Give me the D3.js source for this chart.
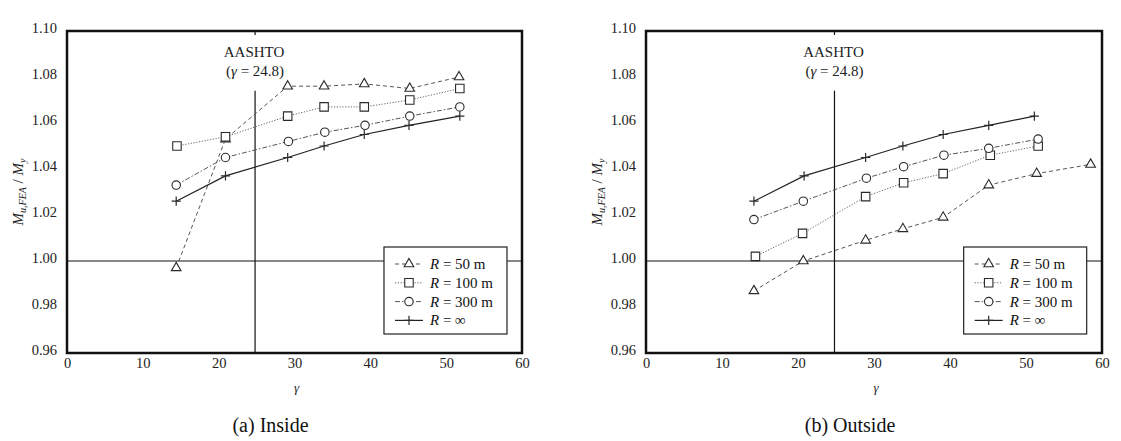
<!DOCTYPE html>
<html>
<head>
<meta charset="utf-8">
<script src="https://cdn.jsdelivr.net/npm/d3@7"></script>
<style>
  body { margin: 0; background: #fff; }
  svg { display: block; font-family: "Liberation Serif", "DejaVu Serif", serif; }
</style>
</head>
<body>
<div class="visHolder"></div>
<script>
// ========================================
// Data
// ========================================
const gammaTicks = [0, 10, 20, 30, 40, 50, 60];
const ratioTicks = [0.96, 0.98, 1.00, 1.02, 1.04, 1.06, 1.08, 1.10];
const aashtoGamma = 24.8;
const legendValues = ['50 m', '100 m', '300 m', '∞'];

// (a) Inside
const inGamma50  = [14.4, 20.9, 29.1, 33.9, 39.2, 45.2, 51.7];
const inRatio50  = [0.997, 1.053, 1.076, 1.076, 1.077, 1.075, 1.080];
const inGamma100 = [14.5, 20.9, 29.1, 33.9, 39.2, 45.2, 51.8];
const inRatio100 = [1.050, 1.054, 1.063, 1.067, 1.067, 1.070, 1.075];
const inGamma300 = [14.4, 20.9, 29.2, 34.0, 39.3, 45.2, 51.8];
const inRatio300 = [1.033, 1.045, 1.052, 1.056, 1.059, 1.063, 1.067];
const inGammaInf = [14.4, 20.9, 29.1, 33.9, 39.2, 45.1, 51.8];
const inRatioInf = [1.026, 1.037, 1.045, 1.050, 1.055, 1.059, 1.063];

// (b) Outside
const outGamma50  = [14.2, 20.7, 28.9, 33.8, 39.1, 45.1, 51.4, 58.5];
const outRatio50  = [0.987, 1.000, 1.009, 1.014, 1.019, 1.033, 1.038, 1.042];
const outGamma100 = [14.4, 20.6, 28.9, 33.9, 39.1, 45.3, 51.6];
const outRatio100 = [1.002, 1.012, 1.028, 1.034, 1.038, 1.046, 1.050];
const outGamma300 = [14.2, 20.7, 29.0, 33.9, 39.2, 45.1, 51.6];
const outRatio300 = [1.018, 1.026, 1.036, 1.041, 1.046, 1.049, 1.053];
const outGammaInf = [14.2, 20.8, 28.9, 33.8, 39.1, 45.1, 51.1];
const outRatioInf = [1.026, 1.037, 1.045, 1.050, 1.055, 1.059, 1.063];

// ========================================
// Layout and styles
// ========================================
const width = 1121, height = 441,
  plotTop = 31, plotBottom = 353,
  tickFont = 14.5;

// line styles per series (R = 50, 100, 300, inf)
const styles = [
  { dash: '4,3',         stroke: '#555', width: 1,   symbol: 'triangle' },
  { dash: '1.2,1.6',     stroke: '#666', width: 1,   symbol: 'square' },
  { dash: '5,2,1.5,2',   stroke: '#555', width: 1,   symbol: 'circle' },
  { dash: null,          stroke: '#222', width: 1.2, symbol: 'plus' }
];

const panels = [
  { x0: 67,  x1: 522,  caption: '(a) Inside',
    series: [[inGamma50, inRatio50], [inGamma100, inRatio100], [inGamma300, inRatio300], [inGammaInf, inRatioInf]] },
  { x0: 646, x1: 1102, caption: '(b) Outside',
    series: [[outGamma50, outRatio50], [outGamma100, outRatio100], [outGamma300, outRatio300], [outGammaInf, outRatioInf]] }
];

const svg = d3.select('.visHolder')
  .append('svg')
    .attr('width', width)
    .attr('height', height);

// marker path generator
function markerPath(kind) {
  if (kind === 'triangle') return d3.symbol(d3.symbolTriangle, 40)();
  if (kind === 'square')   return d3.symbol(d3.symbolSquare, 72)();
  if (kind === 'circle')   return d3.symbol(d3.symbolCircle, 56)();
  return 'M-4.6,0H4.6M0,-4.6V4.6';
}

function drawMarker(g, kind, x, y) {
  g.append('path')
    .attr('d', markerPath(kind))
    .attr('transform', 'translate(' + x + ',' + y + ')')
    .attr('fill', kind === 'plus' ? 'none' : '#fff')
    .attr('stroke', '#2a2a2a')
    .attr('stroke-width', kind === 'plus' ? 1.2 : 1.1);
}

panels.forEach(function (p) {
  const g = svg.append('g');
  const x = d3.scaleLinear().domain([0, 60]).range([p.x0, p.x1]);
  const y = d3.scaleLinear().domain([0.96, 1.10]).range([plotBottom, plotTop]);
  const cx = (p.x0 + p.x1) / 2;

  // --- axes (labels only, no tick marks)
  g.append('g')
    .attr('transform', 'translate(0,' + plotBottom + ')')
    .call(d3.axisBottom(x).tickValues(gammaTicks).tickSize(0).tickPadding(4.5).tickFormat(d3.format('d')))
    .call(a => a.select('.domain').remove())
    .selectAll('text')
      .attr('font-family', 'Liberation Serif')
      .attr('font-size', tickFont)
      .attr('fill', '#222');

  g.append('g')
    .attr('transform', 'translate(' + p.x0 + ',0)')
    .call(d3.axisLeft(y).tickValues(ratioTicks).tickSize(0).tickPadding(10).tickFormat(d3.format('.2f')))
    .call(a => a.select('.domain').remove())
    .selectAll('text')
      .attr('font-family', 'Liberation Serif')
      .attr('font-size', tickFont)
      .attr('dy', '0.08em')
      .attr('fill', '#222');

  // --- reference lines
  g.append('line')
    .attr('x1', p.x0).attr('x2', p.x1)
    .attr('y1', y(1.0)).attr('y2', y(1.0))
    .attr('stroke', '#111').attr('stroke-width', 1.2);

  g.append('line')
    .attr('x1', x(aashtoGamma)).attr('x2', x(aashtoGamma))
    .attr('y1', plotBottom).attr('y2', y(1.074))
    .attr('stroke', '#111').attr('stroke-width', 1.2);

  g.append('line')
    .attr('x1', x(aashtoGamma)).attr('x2', x(aashtoGamma))
    .attr('y1', plotTop).attr('y2', plotTop + 4)
    .attr('stroke', '#111').attr('stroke-width', 1.2);

  g.append('text')
    .attr('x', x(aashtoGamma) - 1).attr('y', 57)
    .attr('text-anchor', 'middle')
    .attr('font-size', 15)
    .attr('fill', '#222')
    .text('AASHTO');

  const t2 = g.append('text')
    .attr('x', x(aashtoGamma)).attr('y', 76)
    .attr('text-anchor', 'middle')
    .attr('font-size', 15)
    .attr('fill', '#222');
  t2.append('tspan').text('(');
  t2.append('tspan').attr('font-style', 'italic').text('γ');
  t2.append('tspan').text(' = ' + aashtoGamma + ')');

  // --- series lines and markers
  p.series.forEach(function (s, k) {
    const st = styles[k];
    const pts = s[0].map((gm, i) => [gm, s[1][i]]);
    g.append('path')
      .datum(pts)
      .attr('d', d3.line().x(d => x(d[0])).y(d => y(d[1])))
      .attr('fill', 'none')
      .attr('stroke', st.stroke)
      .attr('stroke-width', st.width)
      .attr('stroke-dasharray', st.dash);
  });
  p.series.forEach(function (s, k) {
    const st = styles[k];
    s[0].forEach((gm, i) => drawMarker(g, st.symbol, x(gm), y(s[1][i])));
  });

  // --- legend
  const lx = x(41.8), ly = 247, lw = 123, lh = 87;
  const leg = g.append('g').attr('transform', 'translate(' + lx + ',' + ly + ')');
  leg.append('rect')
    .attr('width', lw).attr('height', lh)
    .attr('fill', '#fff')
    .attr('stroke', '#222').attr('stroke-width', 1.2);
  legendValues.forEach(function (v, k) {
    const st = styles[k];
    const ry = 17 + k * 18.8;
    leg.append('line')
      .attr('x1', 11).attr('x2', 39).attr('y1', ry).attr('y2', ry)
      .attr('stroke', st.stroke).attr('stroke-width', st.width)
      .attr('stroke-dasharray', st.dash);
    drawMarker(leg, st.symbol, 25, ry);
    const t = leg.append('text')
      .attr('x', 46).attr('y', ry + 5)
      .attr('font-size', 15)
      .attr('fill', '#111');
    t.append('tspan').attr('font-style', 'italic').text('R');
    t.append('tspan').text(' = ' + v);
  });

  // --- frame
  g.append('rect')
    .attr('x', p.x0).attr('y', plotTop)
    .attr('width', p.x1 - p.x0).attr('height', plotBottom - plotTop)
    .attr('fill', 'none')
    .attr('stroke', '#111').attr('stroke-width', 2.5);

  // --- axis titles
  const yt = g.append('text')
    .attr('transform', 'translate(' + (p.x0 - 44) + ',' + ((plotTop + plotBottom) / 2) + ') rotate(-90)')
    .attr('text-anchor', 'middle')
    .attr('font-size', 15)
    .attr('fill', '#222');
  yt.append('tspan').attr('font-style', 'italic').text('M');
  yt.append('tspan').attr('font-style', 'italic').attr('font-size', 10).attr('dy', 3).text('u,FEA');
  yt.append('tspan').attr('dy', -3).text(' / ');
  yt.append('tspan').attr('font-style', 'italic').text('M');
  yt.append('tspan').attr('font-style', 'italic').attr('font-size', 10).attr('dy', 3).text('y');

  g.append('text')
    .attr('x', cx + 2).attr('y', 392)
    .attr('text-anchor', 'middle')
    .attr('font-size', 13)
    .attr('font-style', 'italic')
    .attr('fill', '#222')
    .text('γ');

  g.append('text')
    .attr('x', cx - 24).attr('y', 432)
    .attr('text-anchor', 'middle')
    .attr('font-size', 20)
    .attr('fill', '#111')
    .text(p.caption);
});
</script>
</body>
</html>
